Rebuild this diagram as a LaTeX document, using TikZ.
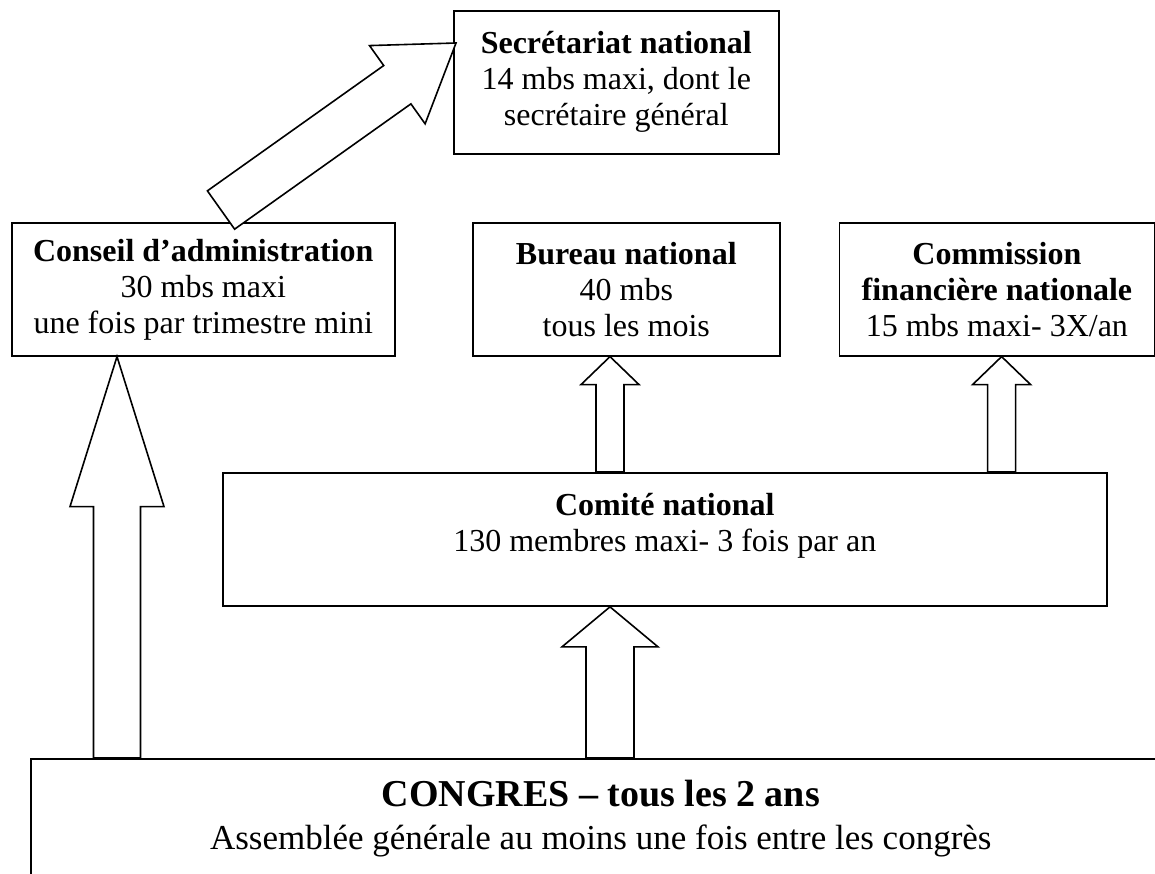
\documentclass[tikz,border=0pt]{standalone}
\usepackage{fontspec}
\setmainfont{Liberation Serif}
\usetikzlibrary{positioning, calc}

% block arrow: tail, tip, half shaft, half head, head length
\newcommand{\blockarrow}[5]{%
  \coordinate (hb) at ($(#2)!#5!(#1)$);
  \draw[blockarr] ($(#1)!#3!90:(#2)$) -- ($(hb)!#3!90:(#2)$) -- ($(hb)!#4!90:(#2)$)
    -- (#2) -- ($(hb)!#4!-90:(#2)$) -- ($(hb)!#3!-90:(#2)$) -- ($(#1)!#3!-90:(#2)$) -- cycle;}

\begin{document}
\begin{tikzpicture}[x=1pt, y=-1pt,
        every node/.style={font=\fontsize{32}{36}\selectfont},
        box/.style={draw, line width=1.6pt, align=center, inner xsep=0pt},
        blockarr/.style={draw, fill=white, line width=1.6pt, line join=miter}
    ]
    \useasboundingbox (0,0) rectangle (1155,873);

    % --- Top ---
    \node[box, anchor=north west, minimum width=325pt, minimum height=143pt] (S) at (453,10)
        {\textbf{Secrétariat national}\\14 mbs maxi, dont le\\secrétaire général};

    % --- Middle row ---
    \node[box, anchor=north west, minimum width=383pt, minimum height=133pt] (C) at (11,222)
        {\textbf{Conseil d’administration}\\30 mbs maxi\\une fois par trimestre mini};
    \node[box, anchor=north west, minimum width=307pt, minimum height=133pt] (B) at (472,222)
        {\textbf{Bureau national}\\40 mbs\\tous les mois};
    \node[box, minimum width=315pt, minimum height=133pt, right=58pt of B] (F)
        {\textbf{Commission}\\\textbf{financière nationale}\\15 mbs maxi- 3X/an};

    % --- Comite ---
    \node[box, anchor=north west, minimum width=884pt, inner ysep=20pt, text depth=35pt] (N) at (222,472)
        {\textbf{Comité national}\\130 membres maxi- 3 fois par an};

    % --- Congres (runs off the page) ---
    \node[box, anchor=north west, minimum width=1140pt, inner ysep=21pt, text depth=120pt,
          font=\fontsize{35}{43}\selectfont] (G) at (30,758)
        {{\fontsize{38}{43}\selectfont\bfseries CONGRES – tous les 2 ans}\\Assemblée générale au moins une fois entre les congrès};

    % --- Arrow ends ---
    \coordinate (dtail) at ($(C.north west)+(210,-12)$);
    \coordinate (dtip) at ($(S.north west)+(3,33)$);
    \coordinate (ctip) at ($(C.south west)+(106,0)$);
    \coordinate (ctail) at (ctip |- G.north);
    \coordinate (ntip) at ($(N.south west)+(388,0)$);
    \coordinate (ntail) at (ntip |- G.north);
    \coordinate (btip) at ($(B.south west)+(138,0)$);
    \coordinate (btail) at (btip |- N.north);
    \coordinate (ftip) at ($(F.south west)+(163,0)$);
    \coordinate (ftail) at (ftip |- N.north);

    % --- Arrows ---
    \blockarrow{dtail}{dtip}{23.5pt}{48pt}{72pt}
    \blockarrow{ctail}{ctip}{23.5pt}{47pt}{150pt}
    \blockarrow{ntail}{ntip}{24pt}{48pt}{40pt}
    \blockarrow{btail}{btip}{14pt}{29pt}{28pt}
    \blockarrow{ftail}{ftip}{14pt}{29pt}{28pt}

\end{tikzpicture}
\end{document}
